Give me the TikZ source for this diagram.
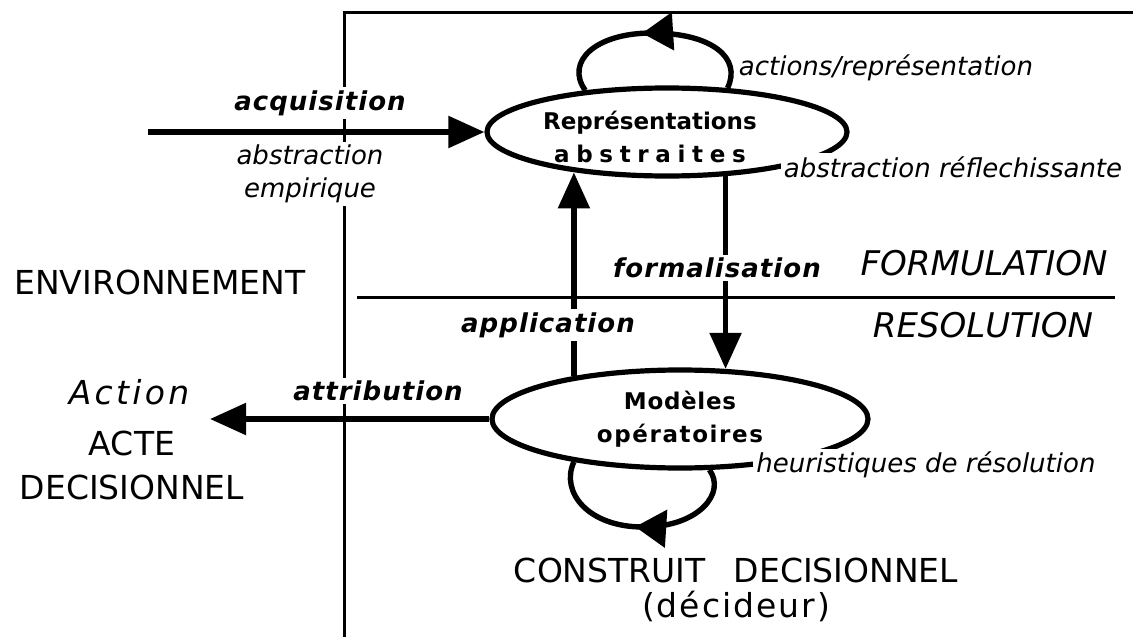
\documentclass[tikz,border=0pt]{standalone}
\usepackage{fontspec}
\setmainfont{DejaVu Sans}
\usetikzlibrary{arrows.meta,shapes.geometric,decorations.markings}

\begin{document}
\begin{tikzpicture}[x=1pt,y=-1pt,
  frame/.style={line width=3pt},
  heavy/.style={line width=5.4pt},
  arr/.style={heavy,-{Triangle[length=36pt,width=31pt]}},
  oval/.style={ellipse,draw,line width=5.2pt,inner sep=0pt},
  loopmark/.style={heavy,postaction={decorate},
    decoration={markings,mark=at position #1 with {\arrow{Triangle[length=31pt,width=37pt]}}}},
  lbl/.style={fill=white,inner sep=3pt},
  boldit/.style={lbl,font=\fontsize{26}{30}\selectfont\bfseries\itshape\addfontfeatures{LetterSpace=4}},
  it/.style={lbl,font=\fontsize{26}{33}\selectfont\itshape},
  capit/.style={font=\fontsize{34}{40}\selectfont\itshape},
  caps/.style={font=\fontsize{33}{44}\selectfont},
  inner/.style={font=\fontsize{23}{33}\selectfont\bfseries,align=center}
]
\useasboundingbox (0,0) rectangle (1133,637);

% frame: environment boundary and formulation / resolution split
\coordinate (ftr) at (1133,12);
\coordinate (ftl) at (344,12);
\coordinate (fbl) at (344,637);
\coordinate (sepl) at (357,297);
\coordinate (sepr) at (1115,297);
\draw[frame] (ftr) -- (ftl) -- (fbl);
\draw[frame] (sepl) -- (sepr);

% the two representation levels
\node[oval,minimum width=360pt,minimum height=88pt] (rep) at (667,132) {};
\node[inner] (repl) at (650,137)
  {Représentations\\{\addfontfeatures{LetterSpace=29}abstraites}};
\node[oval,minimum width=376pt,minimum height=98pt,inner,inner sep=0pt] (mod) at (680,419)
  {{\addfontfeatures{LetterSpace=3}Modèles}\\{\addfontfeatures{LetterSpace=7}opératoires}};

% self loops
\draw[loopmark=0.55] (rep.36) .. controls (742,58) and (712,33) .. (652,33)
  .. controls (595,33) and (565,62) .. (rep.153);
\draw[loopmark=0.52] (mod.-60) .. controls (726,492) and (700,527) .. (643,527)
  .. controls (588,527) and (560,492) .. (mod.202);

% free ends of the outer arrows
\coordinate (acq0) at (148,132);
\coordinate (act0) at (210,419);

% connectors
\draw[arr] (acq0) -- (rep.west);
\draw[arr] (mod.158) -- (mod.158 |- rep.204);
\draw[arr] (rep.-37) -- (rep.-37 |- mod.48);
\draw[arr] (mod.west) -- (act0);

% arrow and loop labels
\node[boldit] (tacq) at (320,103) {acquisition};
\node[it,align=center] (temp) at (310,174) {abstraction\\empirique};
\node[it] (tact) at (886,68) {actions/représentation};
\node[it] (tref) at (953,167) {abstraction réflechissante};
\node[boldit] (tfor) at (717,268) {formalisation};
\node[boldit] (tapp) at (548,325) {application};
\node[boldit] (tatt) at (378,391) {attribution};
\node[it] (theu) at (926,465) {heuristiques de résolution};

% region and outcome labels
\node[capit] (tform) at (984,263) {FORMULATION};
\node[capit] (tres) at (983,325) {RESOLUTION};
\node[caps] (tenv) at (160,282) {ENVIRONNEMENT};
\node[font=\fontsize{33}{36}\selectfont\itshape\addfontfeatures{LetterSpace=10}] (taction) at (129,392) {Action};
\node[caps,align=center] (tacte) at (132,465) {ACTE\\DECISIONNEL};
\node[caps,align=center,font=\fontsize{33}{35}\selectfont] (tcons) at (736,590)
  {CONSTRUIT\hspace{28pt}DECISIONNEL\\{\addfontfeatures{LetterSpace=6}(décideur)}};
\end{tikzpicture}
\end{document}
